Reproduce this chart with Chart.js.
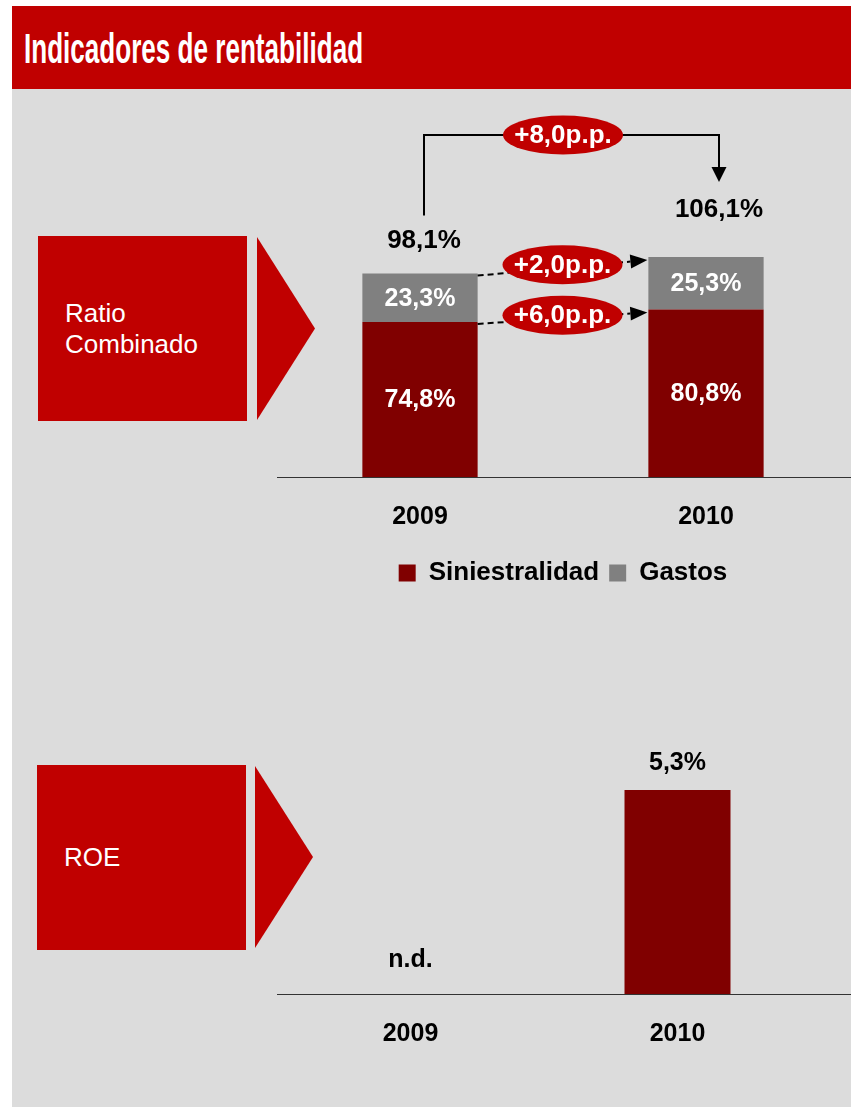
<!DOCTYPE html>
<html>
<head>
<meta charset="utf-8">
<script src="https://cdn.jsdelivr.net/npm/chart.js@4.4.0/dist/chart.umd.min.js"></script>
<style>
  body { margin: 0; width: 851px; height: 1108px; position: relative; overflow: hidden; background: #fff;
         font-family: "Liberation Sans", Arial, sans-serif; }
  #header { position: absolute; left: 12px; top: 6px; width: 839px; height: 83px; background: #C00000; }
  #header span { position: absolute; left: 12px; top: 21px; font: bold 43px/43px "Liberation Sans Narrow", "Liberation Sans", Arial, sans-serif;
                 color: #fff; white-space: nowrap; transform-origin: 0 0; }
  #panel { position: absolute; left: 12px; top: 89px; width: 839px; height: 1018px; background: #DCDCDC; }
  .tag { position: absolute; background: #C00000; color: #fff; font-size: 26px; line-height: 31px; box-sizing: border-box; padding-left: 27px; }
  .point { position: absolute; background: #C00000; clip-path: polygon(0 0, 100% 50%, 0 100%); }
  canvas { position: absolute; }
</style>
</head>
<body>
<div id="header"><span id="headerText">Indicadores de rentabilidad</span></div>
<div id="panel"></div>

<div class="tag" style="left:38px;top:236px;width:209px;height:185px;padding-top:62px">Ratio<br>Combinado</div>
<div class="point" style="left:257px;top:237px;width:58px;height:183px"></div>

<div class="tag" style="left:37px;top:765px;width:209px;height:185px;padding-top:77px">ROE</div>
<div class="point" style="left:255px;top:766px;width:58px;height:182px"></div>

<canvas id="ratioChart" width="574" height="496" style="left:277px;top:100px"></canvas>
<canvas id="roeChart" width="574" height="334" style="left:277px;top:740px"></canvas>

<script>
// squeeze the header into the narrow width it has in the slide
const headerText = document.getElementById("headerText");
headerText.style.transform = "scaleX(" + (339 / headerText.offsetWidth) + ")";

const years = ["2009", "2010"];
const siniestralidad = [74.8, 80.8];
const gastos = [23.3, 25.3];
const roe = [null, 5.3];

const RED = "#C00000";
const BOLD = "bold 25px 'Liberation Sans', Arial, sans-serif";
const BOLD26 = "bold 26px 'Liberation Sans', Arial, sans-serif";

Chart.defaults.font.family = "'Liberation Sans', Arial, sans-serif";
Chart.defaults.color = "#000";

const fmt = (v) => v.toFixed(1).replace(".", ",");

// category axis without grid, labels pushed below the base line
const yearAxis = {
  grid: { display: false, drawTicks: false },
  border: { display: false },
  ticks: { font: { size: 25, weight: "bold" }, padding: 25 },
};

function drawBaseline(chart) {
  const ctx = chart.ctx;
  const y = Math.round(chart.chartArea.bottom) + 0.5;
  ctx.save();
  ctx.strokeStyle = "#333";
  ctx.lineWidth = 1;
  ctx.beginPath();
  ctx.moveTo(0, y);
  ctx.lineTo(chart.width, y);
  ctx.stroke();
  ctx.restore();
}

function pill(ctx, x, y, text) {
  ctx.fillStyle = RED;
  ctx.beginPath();
  ctx.ellipse(x, y, 60, 19.5, 0, 0, Math.PI * 2);
  ctx.fill();
  ctx.fillStyle = "#fff";
  ctx.font = BOLD26;
  ctx.textAlign = "center";
  ctx.textBaseline = "middle";
  ctx.fillText(text, x, y + 1);
}

function arrowLine(ctx, x0, y0, x1, y1) {
  const a = Math.atan2(y1 - y0, x1 - x0);
  const len = 17, half = 7;
  const bx = x1 - Math.cos(a) * len, by = y1 - Math.sin(a) * len;
  ctx.strokeStyle = "#000";
  ctx.lineWidth = 2;
  ctx.setLineDash([6, 4]);
  ctx.beginPath();
  ctx.moveTo(x0, y0);
  ctx.lineTo(bx, by);
  ctx.stroke();
  ctx.setLineDash([]);
  ctx.fillStyle = "#000";
  ctx.beginPath();
  ctx.moveTo(x1, y1);
  ctx.lineTo(bx - Math.sin(a) * half, by + Math.cos(a) * half);
  ctx.lineTo(bx + Math.sin(a) * half, by - Math.cos(a) * half);
  ctx.closePath();
  ctx.fill();
}

const ratioNotes = {
  id: "ratioNotes",
  beforeDatasetsDraw: drawBaseline,
  afterDatasetsDraw(chart) {
    const ctx = chart.ctx;
    const metas = [chart.getDatasetMeta(0), chart.getDatasetMeta(1)];
    const top = metas[1].data;
    ctx.save();

    // values inside every segment
    ctx.font = BOLD;
    ctx.fillStyle = "#fff";
    ctx.textAlign = "center";
    ctx.textBaseline = "middle";
    chart.data.datasets.forEach((ds, i) => {
      metas[i].data.forEach((bar, j) => {
        ctx.fillText(fmt(ds.data[j]) + "%", bar.x, (bar.y + bar.base) / 2 + 1);
      });
    });

    // totals and the bracket from one year to the next
    const totals = years.map((_, j) => siniestralidad[j] + gastos[j]);
    const xL = top[0].x + 4, xR = top[1].x + 13;
    const yBracket = top[1].y - 122;
    ctx.strokeStyle = "#000";
    ctx.lineWidth = 2;
    ctx.beginPath();
    ctx.moveTo(xL, top[0].y - 58);
    ctx.lineTo(xL, yBracket);
    ctx.lineTo(xR, yBracket);
    ctx.lineTo(xR, top[1].y - 90);
    ctx.stroke();
    ctx.fillStyle = "#000";
    ctx.beginPath();
    ctx.moveTo(xR - 7.5, top[1].y - 90);
    ctx.lineTo(xR + 7.5, top[1].y - 90);
    ctx.lineTo(xR, top[1].y - 75);
    ctx.closePath();
    ctx.fill();

    ctx.font = BOLD26;
    ctx.fillStyle = "#000";
    ctx.fillText(fmt(totals[0]) + "%", xL, top[0].y - 33);
    ctx.fillText(fmt(totals[1]) + "%", xR, top[1].y - 47);
    pill(ctx, (top[0].x + top[1].x) / 2, yBracket, "+" + fmt(totals[1] - totals[0]) + "p.p.");

    // dashed change arrows between the segment tops
    [[metas[1], gastos], [metas[0], siniestralidad]].forEach(([meta, values]) => {
      const a = meta.data[0], b = meta.data[1];
      const x0 = a.x + a.width / 2, y0 = a.y + 2;
      const x1 = b.x - b.width / 2 - 1, y1 = b.y + 3;
      arrowLine(ctx, x0, y0, x1, y1);
      pill(ctx, (x0 + x1) / 2, (y0 + y1) / 2 - 3, "+" + fmt(values[1] - values[0]) + "p.p.");
    });
    ctx.restore();
  },
};

new Chart(document.getElementById("ratioChart"), {
  type: "bar",
  data: {
    labels: years,
    datasets: [
      { label: "Siniestralidad", data: siniestralidad, backgroundColor: "#800000" },
      { label: "Gastos", data: gastos, backgroundColor: "#808080" },
    ],
  },
  options: {
    responsive: false,
    animation: false,
    devicePixelRatio: 1,
    events: [],
    layout: { padding: { top: 66, right: 2 } },
    datasets: { bar: { barPercentage: 0.403, categoryPercentage: 1, borderWidth: 0 } },
    scales: {
      x: { ...yearAxis, stacked: true, afterFit: (scale) => { scale.height -= 7; } },
      y: { display: false, stacked: true, min: 0, max: 150 },
    },
    plugins: {
      tooltip: { enabled: false },
      legend: {
        position: "bottom",
        labels: { boxWidth: 17, boxHeight: 17, padding: 10, font: { size: 26, weight: "bold" } },
      },
    },
  },
  plugins: [ratioNotes],
});

const roeNotes = {
  id: "roeNotes",
  beforeDatasetsDraw: drawBaseline,
  afterDatasetsDraw(chart) {
    const ctx = chart.ctx;
    const bars = chart.getDatasetMeta(0).data;
    const xScale = chart.scales.x;
    ctx.save();
    ctx.font = BOLD;
    ctx.fillStyle = "#000";
    ctx.textAlign = "center";
    ctx.textBaseline = "middle";
    roe.forEach((v, j) => {
      if (v === null) {
        ctx.fillText("n.d.", xScale.getPixelForValue(j), chart.chartArea.bottom - 34);
      } else {
        ctx.fillText(fmt(v) + "%", bars[j].x, bars[j].y - 27);
      }
    });
    ctx.restore();
  },
};

new Chart(document.getElementById("roeChart"), {
  type: "bar",
  data: {
    labels: years,
    datasets: [{ label: "ROE", data: roe, backgroundColor: "#800000" }],
  },
  options: {
    responsive: false,
    animation: false,
    devicePixelRatio: 1,
    events: [],
    layout: { padding: { top: 23, right: 40 } },
    datasets: { bar: { barPercentage: 0.397, categoryPercentage: 1, borderWidth: 0 } },
    scales: {
      x: yearAxis,
      y: { display: false, min: 0, max: 6 },
    },
    plugins: { tooltip: { enabled: false }, legend: { display: false } },
  },
  plugins: [roeNotes],
});
</script>
</body>
</html>
